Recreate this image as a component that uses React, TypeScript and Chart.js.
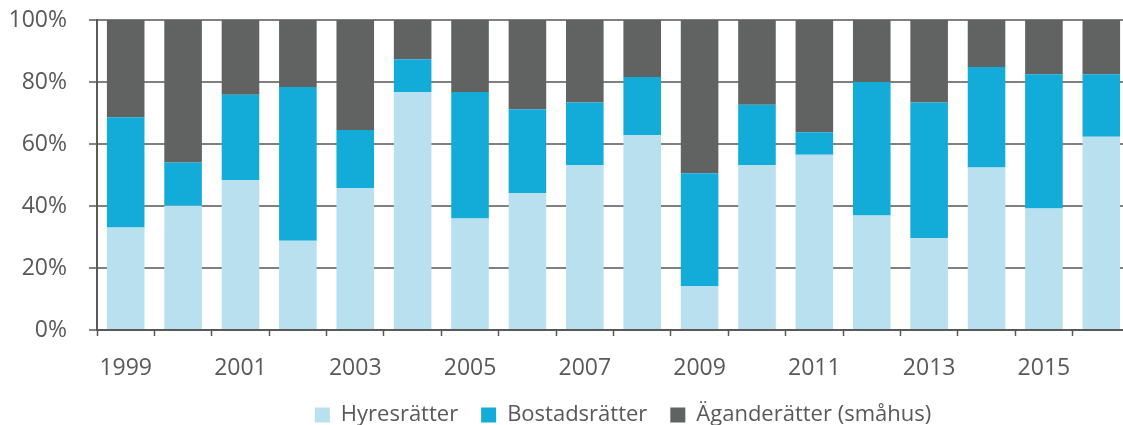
import React, { useEffect, useRef } from "react";
import { Chart, registerables } from "chart.js";

Chart.register(...registerables);

const years = [
  "1999", "2000", "2001", "2002", "2003", "2004", "2005", "2006", "2007",
  "2008", "2009", "2010", "2011", "2012", "2013", "2014", "2015", "2016",
];

const hyresratter = [33.1, 40.1, 48.3, 28.8, 45.8, 76.8, 36.0, 44.2, 53.2, 62.9, 14.2, 53.2, 56.5, 36.9, 29.6, 52.4, 39.2, 62.3];
const bostadsratter = [35.5, 13.9, 27.6, 49.6, 18.7, 10.5, 40.8, 27.0, 20.2, 18.7, 36.4, 19.5, 7.3, 43.1, 43.8, 32.4, 43.3, 20.2];
const aganderatter = [31.4, 46.0, 24.1, 21.6, 35.5, 12.7, 23.2, 28.8, 26.6, 18.4, 49.4, 27.3, 36.2, 20.0, 26.6, 15.2, 17.5, 17.5];

const yTicks = [0, 20, 40, 60, 80, 100];

const seriesNames = ["Hyresrätter", "Bostadsrätter", "Äganderätter (småhus)"];
const seriesColors = ["#b8e0ee", "#13acd8", "#616362"];

const TEXT = "#595959";

export default function App() {
  const ref = useRef<HTMLCanvasElement | null>(null);

  useEffect(() => {
    if (!ref.current) return;
    Chart.defaults.font.family = "'Open Sans', sans-serif";
    const seriesData = [hyresratter, bostadsratter, aganderatter];
    const chart = new Chart(ref.current, {
      type: "bar",
      data: {
        labels: years,
        datasets: seriesData.map((d, i) => ({
          label: seriesNames[i],
          data: d,
          backgroundColor: seriesColors[i],
          borderWidth: 0,
          categoryPercentage: 1,
          barPercentage: 0.655,
          yAxisID: "y",
        })),
      },
      options: {
        animation: false,
        responsive: false,
        devicePixelRatio: 1,
        layout: { padding: { top: 20, left: 0, right: 0, bottom: 0 } },
        plugins: {
          tooltip: { enabled: false },
          legend: {
            position: "bottom",
            labels: {
              boxWidth: 15,
              boxHeight: 15,
              padding: 23,
              color: TEXT,
              font: { size: 22 },
            },
          },
        },
        scales: {
          x: {
            stacked: true,
            grid: {
              offset: true,
              drawOnChartArea: false,
              drawTicks: true,
              tickLength: 6,
              tickColor: TEXT,
              tickWidth: 1.5,
            },
            border: { display: true, color: TEXT, width: 2 },
            ticks: {
              autoSkip: false,
              maxRotation: 0,
              padding: 19,
              color: TEXT,
              font: { size: 23 },
              callback: (_v: any, i: number) => (i % 2 === 0 ? years[i] : ""),
            },
            afterFit: (s: any) => {
              s.height = 51;
              s.paddingLeft = 0;
              s.paddingRight = 0;
            },
          },
          y: {
            stacked: true,
            position: "left",
            min: 0,
            max: 100,
            afterBuildTicks: (s: any) => {
              s.ticks = yTicks.map((v) => ({ value: v }));
            },
            grid: {
              color: "#808080",
              lineWidth: 2,
              drawTicks: true,
              tickLength: 8,
              tickColor: TEXT,
              tickWidth: 1.5,
            },
            border: { display: true, color: TEXT, width: 2 },
            ticks: {
              padding: 22,
              color: TEXT,
              font: { size: 23 },
              callback: (v: any) => v + "%",
            },
            afterFit: (s: any) => {
              s.width = 97;
              s.paddingTop = 0;
              s.paddingBottom = 0;
            },
          },
          yRight: {
            position: "right",
            display: true,
            grid: { display: false, drawTicks: false },
            border: { display: false },
            ticks: { display: false },
            afterFit: (s: any) => {
              s.width = 116;
              s.paddingTop = 0;
              s.paddingBottom = 0;
            },
          },
        },
      },
    } as any);
    return () => chart.destroy();
  }, []);

  return (
    <div
      style={{
        position: "fixed",
        left: 0,
        top: 0,
        width: 1123,
        height: 425,
        overflow: "hidden",
        background: "#fff",
      }}
    >
      <canvas ref={ref} width={1246} height={436} style={{ width: 1246, height: 436, display: "block" }} />
    </div>
  );
}
